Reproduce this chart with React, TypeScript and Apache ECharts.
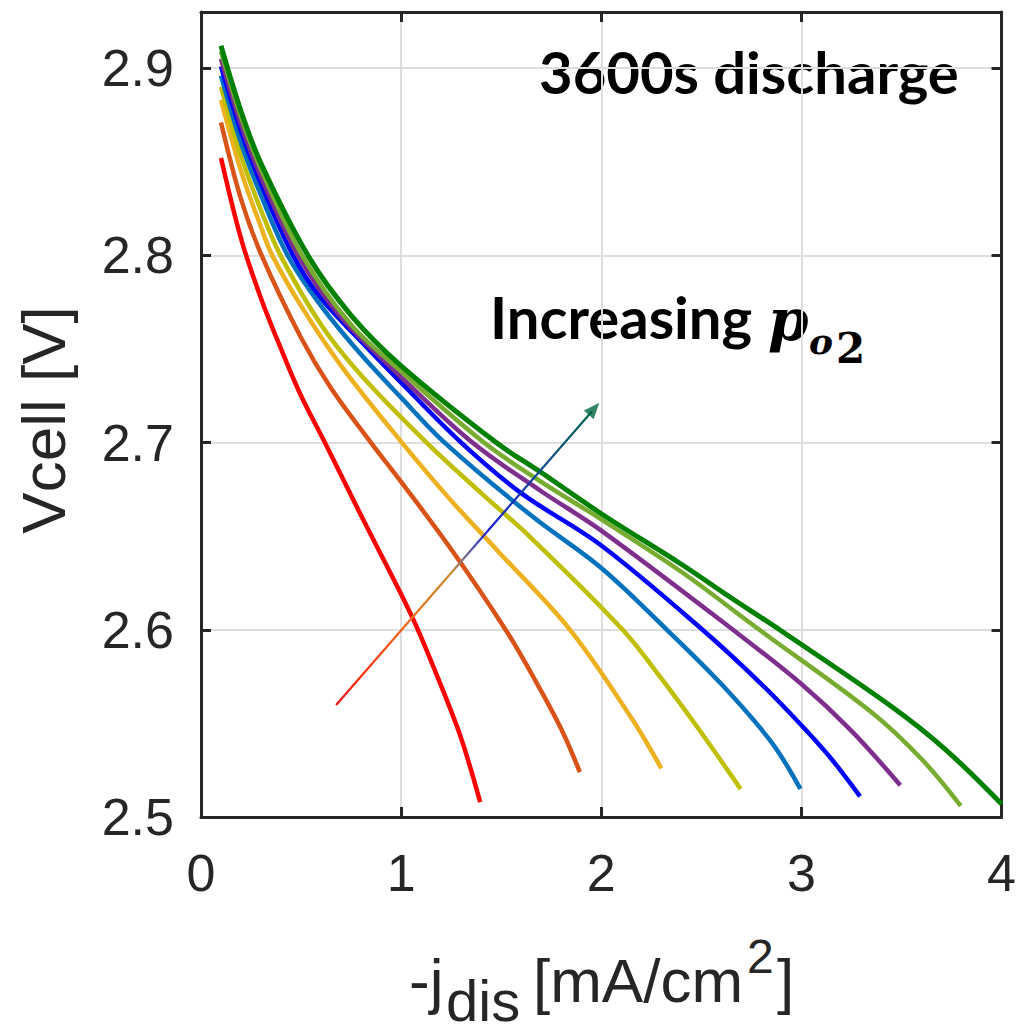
import React, { useEffect, useRef } from "react";
import * as echarts from "echarts";

// ---- data ----
const X_MIN = 0;
const X_MAX = 4;
const X_INTERVAL = 1;
const Y_MIN = 2.5;
const Y_MAX = 2.93;
const Y_INTERVAL = 0.1;

const seriesNames = ["p1", "p2", "p3", "p4", "p5", "p6", "p7", "p8", "p9"];
const seriesColors = ["#FF0000", "#D95319", "#EDB120", "#BFBF00", "#0072BD", "#0000FF", "#7E2F8E", "#77AC30", "#008000"];

const red = [[0.1, 2.852], [0.2, 2.809], [0.3, 2.777], [0.4, 2.75], [0.5, 2.725], [0.619, 2.7], [0.8, 2.661], [1.0, 2.619], [1.084, 2.6], [1.2, 2.57], [1.3, 2.542], [1.395, 2.508]];
const orange = [[0.1, 2.871], [0.2, 2.83], [0.303, 2.8], [0.5, 2.756], [0.65, 2.729], [0.849, 2.7], [1.0, 2.679], [1.25, 2.643], [1.522, 2.6], [1.67, 2.573], [1.8, 2.547], [1.893, 2.524]];
const yellow = [[0.1, 2.883], [0.2, 2.845], [0.3, 2.815], [0.356, 2.8], [0.5, 2.773], [0.7, 2.741], [1.004, 2.7], [1.25, 2.669], [1.484, 2.642], [1.844, 2.6], [2.15, 2.553], [2.3, 2.526]];
const olive = [[0.1, 2.89], [0.2, 2.853], [0.3, 2.824], [0.397, 2.8], [0.6, 2.763], [0.8, 2.736], [1.127, 2.7], [1.4, 2.673], [1.65, 2.649], [2.107, 2.6], [2.3, 2.574], [2.5, 2.545], [2.696, 2.515]];
const lightBlue = [[0.1, 2.896], [0.2, 2.86], [0.3, 2.832], [0.433, 2.8], [0.6, 2.773], [0.8, 2.747], [1.0, 2.724], [1.217, 2.7], [1.65, 2.661], [2.0, 2.633], [2.328, 2.6], [2.6, 2.571], [2.85, 2.54], [2.995, 2.515]];
const blue = [[0.1, 2.901], [0.2, 2.866], [0.3, 2.838], [0.46, 2.8], [0.6, 2.777], [0.8, 2.754], [1.0, 2.732], [1.3, 2.7], [1.6, 2.673], [2.0, 2.645], [2.506, 2.6], [2.8, 2.571], [3.0, 2.549], [3.15, 2.531], [3.293, 2.511]];
const purple = [[0.1, 2.905], [0.2, 2.87], [0.3, 2.842], [0.485, 2.8], [0.7, 2.767], [1.0, 2.735], [1.356, 2.7], [1.7, 2.674], [2.0, 2.653], [2.658, 2.6], [3.0, 2.571], [3.25, 2.546], [3.494, 2.517]];
const lightGreen = [[0.1, 2.909], [0.2, 2.874], [0.3, 2.846], [0.505, 2.8], [0.75, 2.763], [1.0, 2.738], [1.414, 2.7], [1.7, 2.679], [2.0, 2.659], [2.4, 2.631], [2.79, 2.6], [3.35, 2.556], [3.6, 2.531], [3.796, 2.506]];
const darkGreen = [[0.1, 2.912], [0.2, 2.877], [0.3, 2.849], [0.534, 2.8], [0.75, 2.768], [1.0, 2.741], [1.475, 2.7], [1.7, 2.684], [2.0, 2.662], [2.4, 2.635], [2.65, 2.617], [2.891, 2.6], [3.45, 2.559], [3.72, 2.536], [4.0, 2.507]];

const curves = [red, orange, yellow, olive, lightBlue, blue, purple, lightGreen, darkGreen];

// arrow "Increasing p_O2"
const arrowShaft = [[0.675, 2.5598], [1.955, 2.7169]];
const arrowHead = [[1.964, 2.718]];

const titleText = "3600s discharge";
const annotText = "Increasing";

const AXIS_COLOR = "#262626";
const SANS = "'Liberation Sans', Arial, Helvetica, sans-serif";

function txt(text: string, x: number, baseline: number, size: number, family: string, weight: string, style: string, k: number, color = "#000") {
  return {
    type: "text",
    x,
    y: baseline - k * size,
    silent: true,
    style: {
      text,
      fill: color,
      font: `${style} ${weight} ${size}px ${family}`,
      align: "left",
      verticalAlign: "middle",
    },
  };
}

export default function App() {
  const ref = useRef<HTMLDivElement>(null);

  useEffect(() => {
    if (!ref.current) return;
    const chart = echarts.init(ref.current, null, { renderer: "svg" });

    const lineSeries = curves.map((d, i) => ({
      name: seriesNames[i],
      type: "line",
      data: d,
      xAxisIndex: 0,
      yAxisIndex: 0,
      symbol: "none",
      smooth: 0.35,
      lineStyle: { color: seriesColors[i], width: i === 8 ? 5 : 4.5 },
      itemStyle: { color: seriesColors[i] },
      z: 3 + i,
      silent: true,
    }));

    const grad = new echarts.graphic.LinearGradient(0, 1, 1, 0, [
      { offset: 0, color: "#FF1010" },
      { offset: 0.3, color: "#E8701A" },
      { offset: 0.45, color: "#C88A30" },
      { offset: 0.52, color: "#6060A0" },
      { offset: 0.6, color: "#1A1AE0" },
      { offset: 0.8, color: "#104A90" },
      { offset: 1, color: "#00664A" },
    ]);

    const k = 0.347;
    const kLato = 0.387;

    const option: any = {
      animation: false,
      backgroundColor: "#ffffff",
      grid: { left: 201, right: 12, top: 12, bottom: 217, containLabel: false },
      xAxis: [
        {
          type: "value",
          min: X_MIN,
          max: X_MAX,
          interval: X_INTERVAL,
          position: "bottom",
          axisLine: { show: true, onZero: false, lineStyle: { color: AXIS_COLOR, width: 3 } },
          axisTick: { show: true, inside: true, length: 10, lineStyle: { color: AXIS_COLOR, width: 3 } },
          axisLabel: { show: true, color: AXIS_COLOR, fontSize: 52, fontFamily: SANS, margin: 30 },
          splitLine: { show: true, lineStyle: { color: "#DEDEDE", width: 2 } },
        },
        {
          type: "value",
          min: X_MIN,
          max: X_MAX,
          interval: X_INTERVAL,
          position: "top",
          axisLine: { show: true, onZero: false, lineStyle: { color: AXIS_COLOR, width: 3 } },
          axisTick: { show: true, inside: true, length: 10, lineStyle: { color: AXIS_COLOR, width: 3 } },
          axisLabel: { show: false },
          splitLine: { show: false },
        },
      ],
      yAxis: [
        {
          type: "value",
          min: Y_MIN,
          max: Y_MAX,
          interval: Y_INTERVAL,
          position: "left",
          axisLine: { show: true, onZero: false, lineStyle: { color: AXIS_COLOR, width: 3 } },
          axisTick: { show: true, inside: true, length: 10, lineStyle: { color: AXIS_COLOR, width: 3 } },
          axisLabel: {
            show: true,
            color: AXIS_COLOR,
            fontSize: 52,
            fontFamily: SANS,
            margin: 27,
            formatter: (v: number) => (Math.abs(v * 10 - Math.round(v * 10)) < 1e-6 ? v.toFixed(1) : ""),
          },
          splitLine: { show: true, lineStyle: { color: "#DEDEDE", width: 2 } },
        },
        {
          type: "value",
          min: Y_MIN,
          max: Y_MAX,
          interval: Y_INTERVAL,
          position: "right",
          axisLine: { show: true, onZero: false, lineStyle: { color: AXIS_COLOR, width: 3 } },
          axisTick: { show: true, inside: true, length: 10, lineStyle: { color: AXIS_COLOR, width: 3 } },
          axisLabel: { show: false },
          splitLine: { show: false },
        },
      ],
      series: [
        ...lineSeries,
        {
          name: "arrow",
          type: "line",
          data: arrowShaft,
          symbol: "none",
          lineStyle: { color: grad, width: 2.2 },
          z: 20,
          silent: true,
        },
        {
          name: "arrowHead",
          type: "scatter",
          data: arrowHead,
          symbol: "triangle",
          symbolSize: [13, 16],
          symbolRotate: -41.3,
          itemStyle: { color: "#00663F" },
          z: 21,
          silent: true,
        },
      ],
      graphic: [
        txt(titleText, 539, 94, 58, "Lato, 'Open Sans', sans-serif", "bold", "normal", kLato),
        txt(annotText, 490, 339, 58, "Lato, 'Open Sans', sans-serif", "bold", "normal", kLato),
        txt("p", 768, 340, 58, "'DejaVu Serif', serif", "bold", "italic", 0.346),
        txt("o", 809, 353, 36, "'DejaVu Serif', serif", "bold", "italic", 0.346),
        txt("2", 836, 363, 42, "'DejaVu Serif', serif", "bold", "normal", 0.346),
        // x-axis title: -j_dis [mA/cm^2]
        txt("-j", 409, 1002, 62, SANS, "normal", "normal", k, AXIS_COLOR),
        txt("dis", 446, 1021, 58, SANS, "normal", "normal", k, AXIS_COLOR),
        txt("[mA/cm", 533, 1002, 62, SANS, "normal", "normal", k, AXIS_COLOR),
        txt("2", 747, 973, 48, SANS, "normal", "normal", k, AXIS_COLOR),
        txt("]", 777, 1002, 62, SANS, "normal", "normal", k, AXIS_COLOR),
        // y-axis title
        {
          type: "text",
          x: 65 - k * 62,
          y: 420,
          rotation: Math.PI / 2,
          silent: true,
          style: {
            text: "Vcell [V]",
            fill: AXIS_COLOR,
            font: `normal normal 62px ${SANS}`,
            align: "center",
            verticalAlign: "middle",
          },
        },
      ],
    };

    chart.setOption(option);
    return () => {
      chart.dispose();
    };
  }, []);

  return (
    <div
      ref={ref}
      style={{ position: "fixed", left: 0, top: 0, width: 1019, height: 1034, background: "#fff" }}
    />
  );
}
